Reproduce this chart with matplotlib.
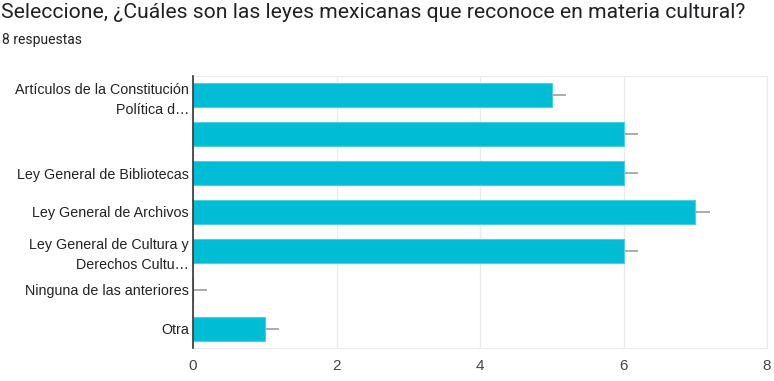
import matplotlib.pyplot as plt

# answers to the multiple-choice question
categories = [
    "Artículos de la Constitución\nPolítica d…",
    "",
    "Ley General de Bibliotecas",
    "Ley General de Archivos",
    "Ley General de Cultura y\nDerechos Cultu…",
    "Ninguna de las anteriores",
    "Otra",
]
counts = [5, 6, 6, 7, 6, 0, 1]
err = 0.2
ticks = [0, 2, 4, 6, 8]

fig = plt.figure(figsize=(7.74, 3.81), dpi=100)
ax = fig.add_axes([193 / 774, 1 - 348 / 381, 574 / 774, 272 / 381])

pos = list(range(len(counts)))
ax.barh(pos, counts, height=0.62, color="#00bcd4", edgecolor="#4dd0e1", linewidth=0.8, zorder=3)
# small gray whisker to the right of every bar
ax.hlines(pos, counts, [c + err for c in counts], color="#9e9e9e", linewidth=1.2, zorder=2)

ax.set_ylim(len(counts) - 0.5, -0.5)
ax.set_xlim(0, 8)
ax.set_xticks(ticks)
ax.set_xticklabels([str(t) for t in ticks], fontsize=11, color="#444444", family="Liberation Sans")
ax.set_yticks(pos)
ax.set_yticklabels(categories, fontsize=10.3, color="#222222", family="Liberation Sans", linespacing=1.55)
ax.tick_params(axis="both", length=0)
ax.tick_params(axis="x", pad=8)
ax.tick_params(axis="y", pad=3)

ax.grid(axis="x", color="#ebebeb", linewidth=1, zorder=0)
for side in ["top", "right", "bottom"]:
    ax.spines[side].set_color("#ebebeb")
ax.spines["left"].set_color("#333333")
ax.spines["left"].set_linewidth(1.2)
ax.spines["left"].set_zorder(4)

fig.text(1 / 774, 1 - 13 / 381, "Seleccione, ¿Cuáles son las leyes mexicanas que reconoce en materia cultural?",
         fontsize=15.2, family="Roboto", color="#202124", va="center")
fig.text(2 / 774, 1 - 40 / 381, "8 respuestas", fontsize=10, family="Roboto", color="#202124", va="center")

fig.savefig("out.png", dpi=100, facecolor="white")
